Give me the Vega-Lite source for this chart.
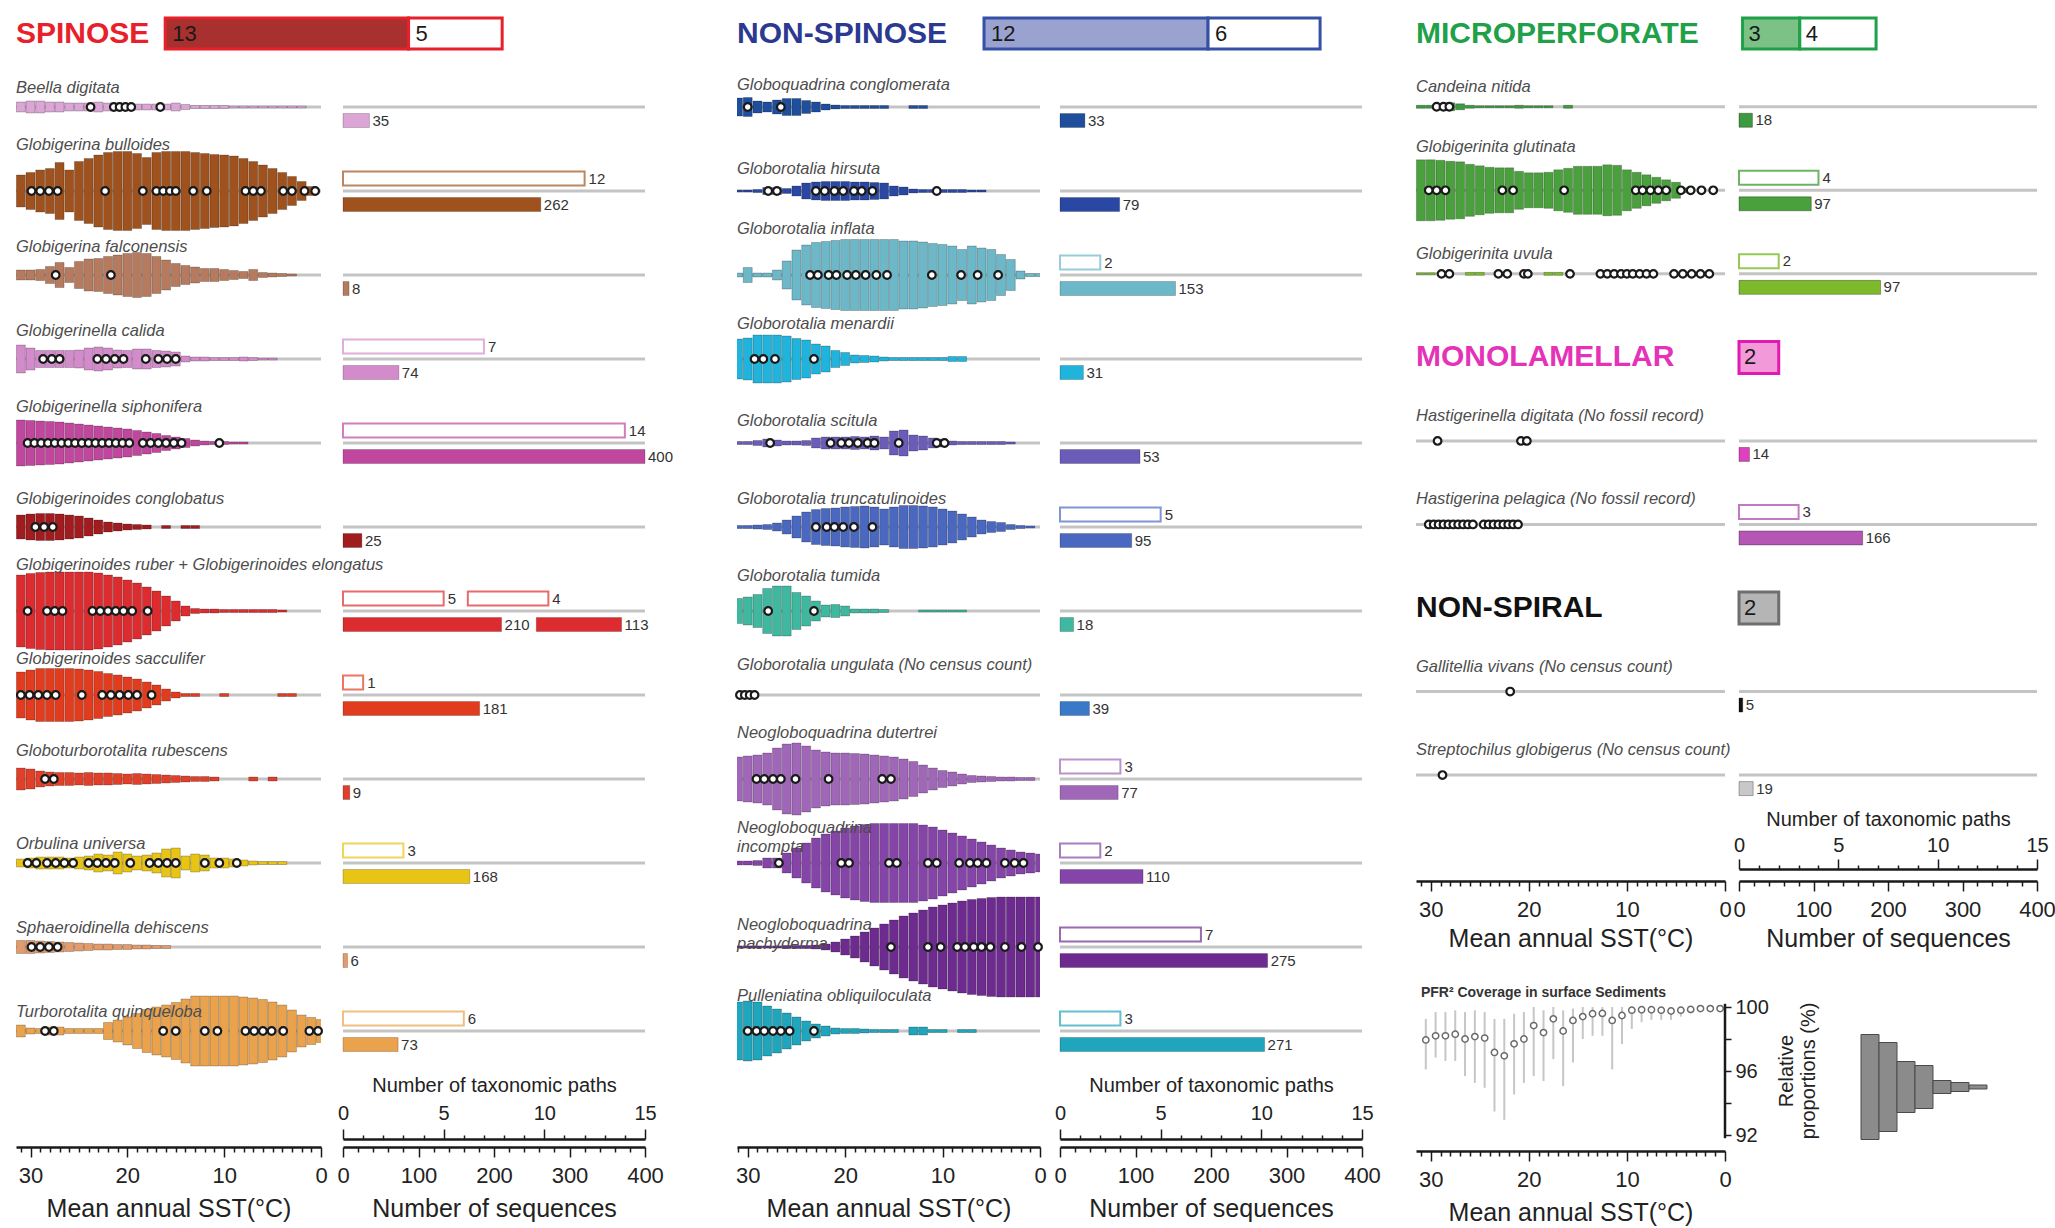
{
"$schema":"https://vega.github.io/schema/vega-lite/v6.json",
"background":"white",
"padding":{"left":12,"top":16,"right":4,"bottom":4},
"config":{"font":"Liberation Sans","view":{"stroke":null},"axis":{"grid":false,"domainColor":"#1a1a1a","domainWidth":2.5,"tickColor":"#1a1a1a","tickWidth":1.5,"labelColor":"#222","titleColor":"#222","titleFontWeight":"normal","labelFlush":false,"labelOverlap":false,"labelBound":false}},
"datasets":{
"n1":[{"c":"bdi","name":"Beella digitata"},{"c":"bul","name":"Globigerina bulloides"},{"c":"fal","name":"Globigerina falconensis"},{"c":"cal","name":"Globigerinella calida"},{"c":"sip","name":"Globigerinella siphonifera"},{"c":"cgl","name":"Globigerinoides conglobatus"},{"c":"rub","name":"Globigerinoides ruber + Globigerinoides elongatus"},{"c":"sac","name":"Globigerinoides sacculifer"},{"c":"rbs","name":"Globoturborotalita rubescens"},{"c":"uni","name":"Orbulina universa"},{"c":"deh","name":"Sphaeroidinella dehiscens"},{"c":"qui","name":"Turborotalita quinqueloba"}],
"n2":[{"c":"cgm","name":"Globoquadrina conglomerata"},{"c":"hir","name":"Globorotalia hirsuta"},{"c":"inf","name":"Globorotalia inflata"},{"c":"men","name":"Globorotalia menardii"},{"c":"sci","name":"Globorotalia scitula"},{"c":"tru","name":"Globorotalia truncatulinoides"},{"c":"tum","name":"Globorotalia tumida"},{"c":"ung","name":"Globorotalia ungulata (No census count)","nv":1},{"c":"dut","name":"Neogloboquadrina dutertrei"},{"c":"inc","name":"Neogloboquadrina\nincompta"},{"c":"pac","name":"Neogloboquadrina\npachyderma"},{"c":"obl","name":"Pulleniatina obliquiloculata"}],
"n3":[{"c":"can","name":"Candeina nitida"},{"c":"glu","name":"Globigerinita glutinata"},{"c":"uvu","name":"Globigerinita uvula"},{"c":"MONO","name":"MONOLAMELLAR","h":1},{"c":"dig","name":"Hastigerinella digitata (No fossil record)","nv":1},{"c":"pel","name":"Hastigerina pelagica (No fossil record)","nv":1},{"c":"NONS","name":"NON-SPIRAL","h":1},{"c":"gal","name":"Gallitellia vivans (No census count)","nv":1},{"c":"str","name":"Streptochilus globigerus (No census count)","nv":1}],
"v1":[
{"c":"bdi","t":31,"n":10},{"c":"bdi","t":30,"n":12},{"c":"bdi","t":29,"n":12},{"c":"bdi","t":28,"n":10},{"c":"bdi","t":27,"n":10},{"c":"bdi","t":26,"n":8},{"c":"bdi","t":25,"n":8},{"c":"bdi","t":24,"n":8},{"c":"bdi","t":23,"n":10},{"c":"bdi","t":22,"n":8},{"c":"bdi","t":21,"n":8},{"c":"bdi","t":20,"n":7},{"c":"bdi","t":19,"n":6},{"c":"bdi","t":18,"n":6},{"c":"bdi","t":17,"n":6},{"c":"bdi","t":16,"n":6},{"c":"bdi","t":15,"n":8},{"c":"bdi","t":14,"n":5},{"c":"bdi","t":13,"n":3},{"c":"bdi","t":12,"n":3},{"c":"bdi","t":11,"n":3},{"c":"bdi","t":10,"n":3},{"c":"bdi","t":9,"n":2},{"c":"bdi","t":8,"n":2},{"c":"bdi","t":7,"n":2},{"c":"bdi","t":6,"n":2},{"c":"bdi","t":5,"n":2},{"c":"bdi","t":4,"n":2},{"c":"bdi","t":3,"n":2},{"c":"bdi","t":2,"n":2},
{"c":"bul","t":31,"n":32},{"c":"bul","t":30,"n":37},{"c":"bul","t":29,"n":42},{"c":"bul","t":28,"n":45},{"c":"bul","t":27,"n":57},{"c":"bul","t":26,"n":42},{"c":"bul","t":25,"n":59},{"c":"bul","t":24,"n":65},{"c":"bul","t":23,"n":72},{"c":"bul","t":22,"n":77},{"c":"bul","t":21,"n":79},{"c":"bul","t":20,"n":79},{"c":"bul","t":19,"n":75},{"c":"bul","t":18,"n":67},{"c":"bul","t":17,"n":77},{"c":"bul","t":16,"n":79},{"c":"bul","t":15,"n":79},{"c":"bul","t":14,"n":79},{"c":"bul","t":13,"n":77},{"c":"bul","t":12,"n":75},{"c":"bul","t":11,"n":73},{"c":"bul","t":10,"n":72},{"c":"bul","t":9,"n":70},{"c":"bul","t":8,"n":65},{"c":"bul","t":7,"n":59},{"c":"bul","t":6,"n":52},{"c":"bul","t":5,"n":45},{"c":"bul","t":4,"n":37},{"c":"bul","t":3,"n":29},{"c":"bul","t":2,"n":19},{"c":"bul","t":1,"n":9},
{"c":"fal","t":31,"n":10},{"c":"fal","t":30,"n":10},{"c":"fal","t":29,"n":11},{"c":"fal","t":28,"n":17},{"c":"fal","t":27,"n":25},{"c":"fal","t":26,"n":15},{"c":"fal","t":25,"n":27},{"c":"fal","t":24,"n":32},{"c":"fal","t":23,"n":33},{"c":"fal","t":22,"n":37},{"c":"fal","t":21,"n":40},{"c":"fal","t":20,"n":43},{"c":"fal","t":19,"n":45},{"c":"fal","t":18,"n":43},{"c":"fal","t":17,"n":37},{"c":"fal","t":16,"n":30},{"c":"fal","t":15,"n":23},{"c":"fal","t":14,"n":19},{"c":"fal","t":13,"n":16},{"c":"fal","t":12,"n":13},{"c":"fal","t":11,"n":13},{"c":"fal","t":10,"n":11},{"c":"fal","t":9,"n":9},{"c":"fal","t":8,"n":7},{"c":"fal","t":7,"n":11},{"c":"fal","t":6,"n":5},{"c":"fal","t":5,"n":4},{"c":"fal","t":4,"n":3},{"c":"fal","t":3,"n":2},
{"c":"cal","t":31,"n":28},{"c":"cal","t":30,"n":22},{"c":"cal","t":29,"n":17},{"c":"cal","t":28,"n":17},{"c":"cal","t":27,"n":17},{"c":"cal","t":26,"n":17},{"c":"cal","t":25,"n":18},{"c":"cal","t":24,"n":22},{"c":"cal","t":23,"n":24},{"c":"cal","t":22,"n":22},{"c":"cal","t":21,"n":18},{"c":"cal","t":20,"n":17},{"c":"cal","t":19,"n":20},{"c":"cal","t":18,"n":20},{"c":"cal","t":17,"n":17},{"c":"cal","t":16,"n":16},{"c":"cal","t":15,"n":14},{"c":"cal","t":14,"n":6},{"c":"cal","t":13,"n":4},{"c":"cal","t":12,"n":4},{"c":"cal","t":11,"n":3},{"c":"cal","t":10,"n":3},{"c":"cal","t":9,"n":3},{"c":"cal","t":8,"n":4},{"c":"cal","t":7,"n":3},{"c":"cal","t":6,"n":2},{"c":"cal","t":5,"n":2},
{"c":"sip","t":31,"n":46},{"c":"sip","t":30,"n":45},{"c":"sip","t":29,"n":44},{"c":"sip","t":28,"n":43},{"c":"sip","t":27,"n":42},{"c":"sip","t":26,"n":40},{"c":"sip","t":25,"n":38},{"c":"sip","t":24,"n":36},{"c":"sip","t":23,"n":34},{"c":"sip","t":22,"n":32},{"c":"sip","t":21,"n":30},{"c":"sip","t":20,"n":28},{"c":"sip","t":19,"n":25},{"c":"sip","t":18,"n":22},{"c":"sip","t":17,"n":19},{"c":"sip","t":16,"n":15},{"c":"sip","t":15,"n":12},{"c":"sip","t":14,"n":9},{"c":"sip","t":13,"n":6},{"c":"sip","t":12,"n":4},{"c":"sip","t":11,"n":3},{"c":"sip","t":10,"n":3},{"c":"sip","t":9,"n":2},{"c":"sip","t":8,"n":2},
{"c":"cgl","t":31,"n":24},{"c":"cgl","t":30,"n":26},{"c":"cgl","t":29,"n":27},{"c":"cgl","t":28,"n":27},{"c":"cgl","t":27,"n":26},{"c":"cgl","t":26,"n":24},{"c":"cgl","t":25,"n":22},{"c":"cgl","t":24,"n":18},{"c":"cgl","t":23,"n":14},{"c":"cgl","t":22,"n":10},{"c":"cgl","t":21,"n":8},{"c":"cgl","t":20,"n":6},{"c":"cgl","t":19,"n":5},{"c":"cgl","t":18,"n":4},{"c":"cgl","t":16,"n":3},{"c":"cgl","t":14,"n":3},{"c":"cgl","t":13,"n":3},
{"c":"rub","t":31,"n":72},{"c":"rub","t":30,"n":75},{"c":"rub","t":29,"n":77},{"c":"rub","t":28,"n":78},{"c":"rub","t":27,"n":78},{"c":"rub","t":26,"n":78},{"c":"rub","t":25,"n":78},{"c":"rub","t":24,"n":78},{"c":"rub","t":23,"n":76},{"c":"rub","t":22,"n":72},{"c":"rub","t":21,"n":68},{"c":"rub","t":20,"n":62},{"c":"rub","t":19,"n":56},{"c":"rub","t":18,"n":48},{"c":"rub","t":17,"n":40},{"c":"rub","t":16,"n":30},{"c":"rub","t":15,"n":20},{"c":"rub","t":14,"n":10},{"c":"rub","t":13,"n":5},{"c":"rub","t":12,"n":4},{"c":"rub","t":11,"n":4},{"c":"rub","t":10,"n":3},{"c":"rub","t":9,"n":3},{"c":"rub","t":8,"n":3},{"c":"rub","t":7,"n":3},{"c":"rub","t":6,"n":3},{"c":"rub","t":5,"n":3},{"c":"rub","t":4,"n":2},
{"c":"sac","t":31,"n":46},{"c":"sac","t":30,"n":50},{"c":"sac","t":29,"n":53},{"c":"sac","t":28,"n":53},{"c":"sac","t":27,"n":53},{"c":"sac","t":26,"n":53},{"c":"sac","t":25,"n":52},{"c":"sac","t":24,"n":50},{"c":"sac","t":23,"n":47},{"c":"sac","t":22,"n":43},{"c":"sac","t":21,"n":40},{"c":"sac","t":20,"n":36},{"c":"sac","t":19,"n":32},{"c":"sac","t":18,"n":26},{"c":"sac","t":17,"n":20},{"c":"sac","t":16,"n":12},{"c":"sac","t":15,"n":6},{"c":"sac","t":14,"n":3},{"c":"sac","t":13,"n":3},{"c":"sac","t":10,"n":3},{"c":"sac","t":4,"n":3},{"c":"sac","t":3,"n":3},
{"c":"rbs","t":31,"n":22},{"c":"rbs","t":30,"n":20},{"c":"rbs","t":29,"n":16},{"c":"rbs","t":28,"n":14},{"c":"rbs","t":27,"n":13},{"c":"rbs","t":26,"n":13},{"c":"rbs","t":25,"n":12},{"c":"rbs","t":24,"n":13},{"c":"rbs","t":23,"n":12},{"c":"rbs","t":22,"n":12},{"c":"rbs","t":21,"n":11},{"c":"rbs","t":20,"n":10},{"c":"rbs","t":19,"n":11},{"c":"rbs","t":18,"n":10},{"c":"rbs","t":17,"n":9},{"c":"rbs","t":16,"n":8},{"c":"rbs","t":15,"n":7},{"c":"rbs","t":14,"n":6},{"c":"rbs","t":13,"n":5},{"c":"rbs","t":12,"n":5},{"c":"rbs","t":11,"n":4},{"c":"rbs","t":7,"n":4},{"c":"rbs","t":5,"n":4},
{"c":"uni","t":31,"n":8},{"c":"uni","t":30,"n":10},{"c":"uni","t":29,"n":12},{"c":"uni","t":28,"n":12},{"c":"uni","t":27,"n":12},{"c":"uni","t":26,"n":10},{"c":"uni","t":25,"n":12},{"c":"uni","t":24,"n":14},{"c":"uni","t":23,"n":18},{"c":"uni","t":22,"n":16},{"c":"uni","t":21,"n":22},{"c":"uni","t":20,"n":18},{"c":"uni","t":19,"n":14},{"c":"uni","t":18,"n":16},{"c":"uni","t":17,"n":20},{"c":"uni","t":16,"n":28},{"c":"uni","t":15,"n":30},{"c":"uni","t":14,"n":14},{"c":"uni","t":13,"n":18},{"c":"uni","t":12,"n":16},{"c":"uni","t":11,"n":10},{"c":"uni","t":10,"n":10},{"c":"uni","t":9,"n":8},{"c":"uni","t":8,"n":6},{"c":"uni","t":7,"n":4},{"c":"uni","t":6,"n":3},{"c":"uni","t":5,"n":3},{"c":"uni","t":4,"n":3},
{"c":"deh","t":31,"n":13},{"c":"deh","t":30,"n":13},{"c":"deh","t":29,"n":12},{"c":"deh","t":28,"n":11},{"c":"deh","t":27,"n":10},{"c":"deh","t":26,"n":9},{"c":"deh","t":25,"n":8},{"c":"deh","t":24,"n":7},{"c":"deh","t":23,"n":6},{"c":"deh","t":22,"n":6},{"c":"deh","t":21,"n":5},{"c":"deh","t":20,"n":5},{"c":"deh","t":19,"n":4},{"c":"deh","t":18,"n":4},{"c":"deh","t":17,"n":3},{"c":"deh","t":16,"n":3},
{"c":"qui","t":31,"n":12},{"c":"qui","t":30,"n":6},{"c":"qui","t":29,"n":5},{"c":"qui","t":28,"n":8},{"c":"qui","t":27,"n":8},{"c":"qui","t":26,"n":5},{"c":"qui","t":25,"n":5},{"c":"qui","t":24,"n":5},{"c":"qui","t":23,"n":5},{"c":"qui","t":22,"n":17},{"c":"qui","t":21,"n":22},{"c":"qui","t":20,"n":28},{"c":"qui","t":19,"n":35},{"c":"qui","t":18,"n":43},{"c":"qui","t":17,"n":48},{"c":"qui","t":16,"n":52},{"c":"qui","t":15,"n":57},{"c":"qui","t":14,"n":64},{"c":"qui","t":13,"n":70},{"c":"qui","t":12,"n":70},{"c":"qui","t":11,"n":70},{"c":"qui","t":10,"n":70},{"c":"qui","t":9,"n":70},{"c":"qui","t":8,"n":68},{"c":"qui","t":7,"n":66},{"c":"qui","t":6,"n":63},{"c":"qui","t":5,"n":58},{"c":"qui","t":4,"n":52},{"c":"qui","t":3,"n":42},{"c":"qui","t":2,"n":32},{"c":"qui","t":1,"n":27},{"c":"qui","t":0,"n":23}
],
"v2":[
{"c":"cgm","t":31,"n":18},{"c":"cgm","t":30,"n":19},{"c":"cgm","t":29,"n":12},{"c":"cgm","t":28,"n":10},{"c":"cgm","t":27,"n":14},{"c":"cgm","t":26,"n":17},{"c":"cgm","t":25,"n":17},{"c":"cgm","t":24,"n":13},{"c":"cgm","t":23,"n":10},{"c":"cgm","t":22,"n":6},{"c":"cgm","t":21,"n":4},{"c":"cgm","t":20,"n":3},{"c":"cgm","t":19,"n":3},{"c":"cgm","t":18,"n":3},{"c":"cgm","t":17,"n":3},{"c":"cgm","t":16,"n":3},{"c":"cgm","t":13,"n":3},{"c":"cgm","t":12,"n":3},
{"c":"hir","t":31,"n":2},{"c":"hir","t":30,"n":2},{"c":"hir","t":29,"n":3},{"c":"hir","t":28,"n":7},{"c":"hir","t":27,"n":7},{"c":"hir","t":26,"n":5},{"c":"hir","t":25,"n":10},{"c":"hir","t":24,"n":16},{"c":"hir","t":23,"n":18},{"c":"hir","t":22,"n":19},{"c":"hir","t":21,"n":19},{"c":"hir","t":20,"n":19},{"c":"hir","t":19,"n":18},{"c":"hir","t":18,"n":18},{"c":"hir","t":17,"n":17},{"c":"hir","t":16,"n":16},{"c":"hir","t":15,"n":10},{"c":"hir","t":14,"n":8},{"c":"hir","t":13,"n":4},{"c":"hir","t":12,"n":3},{"c":"hir","t":11,"n":3},{"c":"hir","t":10,"n":3},{"c":"hir","t":9,"n":3},{"c":"hir","t":8,"n":3},{"c":"hir","t":7,"n":2},{"c":"hir","t":6,"n":2},
{"c":"inf","t":31,"n":4},{"c":"inf","t":30,"n":15},{"c":"inf","t":29,"n":4},{"c":"inf","t":28,"n":4},{"c":"inf","t":27,"n":10},{"c":"inf","t":26,"n":28},{"c":"inf","t":25,"n":50},{"c":"inf","t":24,"n":60},{"c":"inf","t":23,"n":65},{"c":"inf","t":22,"n":67},{"c":"inf","t":21,"n":69},{"c":"inf","t":20,"n":71},{"c":"inf","t":19,"n":71},{"c":"inf","t":18,"n":71},{"c":"inf","t":17,"n":71},{"c":"inf","t":16,"n":71},{"c":"inf","t":15,"n":71},{"c":"inf","t":14,"n":68},{"c":"inf","t":13,"n":68},{"c":"inf","t":12,"n":66},{"c":"inf","t":11,"n":63},{"c":"inf","t":10,"n":61},{"c":"inf","t":9,"n":58},{"c":"inf","t":8,"n":51},{"c":"inf","t":7,"n":58},{"c":"inf","t":6,"n":54},{"c":"inf","t":5,"n":51},{"c":"inf","t":4,"n":41},{"c":"inf","t":3,"n":31},{"c":"inf","t":2,"n":8},{"c":"inf","t":1,"n":3},{"c":"inf","t":0,"n":3},
{"c":"men","t":31,"n":40},{"c":"men","t":30,"n":42},{"c":"men","t":29,"n":48},{"c":"men","t":28,"n":48},{"c":"men","t":27,"n":48},{"c":"men","t":26,"n":46},{"c":"men","t":25,"n":41},{"c":"men","t":24,"n":38},{"c":"men","t":23,"n":30},{"c":"men","t":22,"n":26},{"c":"men","t":21,"n":17},{"c":"men","t":20,"n":13},{"c":"men","t":19,"n":8},{"c":"men","t":18,"n":7},{"c":"men","t":17,"n":6},{"c":"men","t":16,"n":4},{"c":"men","t":15,"n":3},{"c":"men","t":14,"n":3},{"c":"men","t":13,"n":3},{"c":"men","t":12,"n":3},{"c":"men","t":11,"n":3},{"c":"men","t":10,"n":3},{"c":"men","t":9,"n":5},{"c":"men","t":8,"n":5},
{"c":"sci","t":31,"n":3},{"c":"sci","t":30,"n":3},{"c":"sci","t":29,"n":5},{"c":"sci","t":28,"n":8},{"c":"sci","t":27,"n":6},{"c":"sci","t":26,"n":4},{"c":"sci","t":25,"n":4},{"c":"sci","t":24,"n":5},{"c":"sci","t":23,"n":10},{"c":"sci","t":22,"n":12},{"c":"sci","t":21,"n":12},{"c":"sci","t":20,"n":12},{"c":"sci","t":19,"n":13},{"c":"sci","t":18,"n":12},{"c":"sci","t":17,"n":14},{"c":"sci","t":16,"n":12},{"c":"sci","t":15,"n":24},{"c":"sci","t":14,"n":26},{"c":"sci","t":13,"n":16},{"c":"sci","t":12,"n":14},{"c":"sci","t":11,"n":10},{"c":"sci","t":10,"n":8},{"c":"sci","t":9,"n":4},{"c":"sci","t":8,"n":3},{"c":"sci","t":7,"n":3},{"c":"sci","t":6,"n":3},{"c":"sci","t":5,"n":3},{"c":"sci","t":4,"n":3},{"c":"sci","t":3,"n":2},
{"c":"tru","t":31,"n":3},{"c":"tru","t":30,"n":3},{"c":"tru","t":29,"n":4},{"c":"tru","t":28,"n":5},{"c":"tru","t":27,"n":8},{"c":"tru","t":26,"n":14},{"c":"tru","t":25,"n":22},{"c":"tru","t":24,"n":30},{"c":"tru","t":23,"n":35},{"c":"tru","t":22,"n":37},{"c":"tru","t":21,"n":38},{"c":"tru","t":20,"n":40},{"c":"tru","t":19,"n":41},{"c":"tru","t":18,"n":42},{"c":"tru","t":17,"n":40},{"c":"tru","t":16,"n":36},{"c":"tru","t":15,"n":40},{"c":"tru","t":14,"n":43},{"c":"tru","t":13,"n":43},{"c":"tru","t":12,"n":42},{"c":"tru","t":11,"n":40},{"c":"tru","t":10,"n":36},{"c":"tru","t":9,"n":32},{"c":"tru","t":8,"n":26},{"c":"tru","t":7,"n":20},{"c":"tru","t":6,"n":14},{"c":"tru","t":5,"n":11},{"c":"tru","t":4,"n":9},{"c":"tru","t":3,"n":5},{"c":"tru","t":2,"n":3},{"c":"tru","t":1,"n":2},
{"c":"tum","t":31,"n":25},{"c":"tum","t":30,"n":28},{"c":"tum","t":29,"n":33},{"c":"tum","t":28,"n":45},{"c":"tum","t":27,"n":50},{"c":"tum","t":26,"n":50},{"c":"tum","t":25,"n":37},{"c":"tum","t":24,"n":30},{"c":"tum","t":23,"n":20},{"c":"tum","t":22,"n":12},{"c":"tum","t":21,"n":13},{"c":"tum","t":20,"n":10},{"c":"tum","t":19,"n":4},{"c":"tum","t":18,"n":4},{"c":"tum","t":17,"n":4},{"c":"tum","t":16,"n":3},{"c":"tum","t":12,"n":2},{"c":"tum","t":11,"n":2},{"c":"tum","t":10,"n":2},{"c":"tum","t":9,"n":2},{"c":"tum","t":8,"n":2},
{"c":"dut","t":31,"n":44},{"c":"dut","t":30,"n":46},{"c":"dut","t":29,"n":48},{"c":"dut","t":28,"n":52},{"c":"dut","t":27,"n":62},{"c":"dut","t":26,"n":70},{"c":"dut","t":25,"n":72},{"c":"dut","t":24,"n":66},{"c":"dut","t":23,"n":58},{"c":"dut","t":22,"n":54},{"c":"dut","t":21,"n":52},{"c":"dut","t":20,"n":52},{"c":"dut","t":19,"n":51},{"c":"dut","t":18,"n":50},{"c":"dut","t":17,"n":48},{"c":"dut","t":16,"n":46},{"c":"dut","t":15,"n":44},{"c":"dut","t":14,"n":40},{"c":"dut","t":13,"n":35},{"c":"dut","t":12,"n":28},{"c":"dut","t":11,"n":22},{"c":"dut","t":10,"n":17},{"c":"dut","t":9,"n":14},{"c":"dut","t":8,"n":10},{"c":"dut","t":7,"n":7},{"c":"dut","t":6,"n":6},{"c":"dut","t":5,"n":5},{"c":"dut","t":4,"n":4},{"c":"dut","t":3,"n":4},{"c":"dut","t":2,"n":3},{"c":"dut","t":1,"n":3},
{"c":"inc","t":31,"n":4},{"c":"inc","t":30,"n":4},{"c":"inc","t":29,"n":5},{"c":"inc","t":28,"n":10},{"c":"inc","t":27,"n":10},{"c":"inc","t":26,"n":20},{"c":"inc","t":25,"n":30},{"c":"inc","t":24,"n":40},{"c":"inc","t":23,"n":50},{"c":"inc","t":22,"n":58},{"c":"inc","t":21,"n":64},{"c":"inc","t":20,"n":70},{"c":"inc","t":19,"n":74},{"c":"inc","t":18,"n":77},{"c":"inc","t":17,"n":79},{"c":"inc","t":16,"n":79},{"c":"inc","t":15,"n":79},{"c":"inc","t":14,"n":79},{"c":"inc","t":13,"n":79},{"c":"inc","t":12,"n":76},{"c":"inc","t":11,"n":72},{"c":"inc","t":10,"n":66},{"c":"inc","t":9,"n":60},{"c":"inc","t":8,"n":54},{"c":"inc","t":7,"n":48},{"c":"inc","t":6,"n":42},{"c":"inc","t":5,"n":36},{"c":"inc","t":4,"n":30},{"c":"inc","t":3,"n":26},{"c":"inc","t":2,"n":22},{"c":"inc","t":1,"n":20},{"c":"inc","t":0,"n":18},
{"c":"pac","t":31,"n":2},{"c":"pac","t":30,"n":2},{"c":"pac","t":29,"n":2},{"c":"pac","t":28,"n":2},{"c":"pac","t":27,"n":2},{"c":"pac","t":26,"n":3},{"c":"pac","t":25,"n":3},{"c":"pac","t":24,"n":3},{"c":"pac","t":23,"n":4},{"c":"pac","t":22,"n":6},{"c":"pac","t":21,"n":10},{"c":"pac","t":20,"n":16},{"c":"pac","t":19,"n":22},{"c":"pac","t":18,"n":30},{"c":"pac","t":17,"n":38},{"c":"pac","t":16,"n":46},{"c":"pac","t":15,"n":54},{"c":"pac","t":14,"n":62},{"c":"pac","t":13,"n":68},{"c":"pac","t":12,"n":74},{"c":"pac","t":11,"n":80},{"c":"pac","t":10,"n":84},{"c":"pac","t":9,"n":88},{"c":"pac","t":8,"n":92},{"c":"pac","t":7,"n":95},{"c":"pac","t":6,"n":97},{"c":"pac","t":5,"n":99},{"c":"pac","t":4,"n":100},{"c":"pac","t":3,"n":100},{"c":"pac","t":2,"n":100},{"c":"pac","t":1,"n":100},{"c":"pac","t":0,"n":100},
{"c":"obl","t":31,"n":58},{"c":"obl","t":30,"n":60},{"c":"obl","t":29,"n":58},{"c":"obl","t":28,"n":50},{"c":"obl","t":27,"n":44},{"c":"obl","t":26,"n":36},{"c":"obl","t":25,"n":28},{"c":"obl","t":24,"n":20},{"c":"obl","t":23,"n":14},{"c":"obl","t":22,"n":10},{"c":"obl","t":21,"n":6},{"c":"obl","t":20,"n":5},{"c":"obl","t":19,"n":5},{"c":"obl","t":18,"n":4},{"c":"obl","t":17,"n":3},{"c":"obl","t":16,"n":3},{"c":"obl","t":15,"n":3},{"c":"obl","t":13,"n":8},{"c":"obl","t":12,"n":8},{"c":"obl","t":11,"n":3},{"c":"obl","t":10,"n":3},{"c":"obl","t":8,"n":3},{"c":"obl","t":7,"n":3}
],
"v3":[
{"c":"can","t":31,"n":3},{"c":"can","t":30,"n":3},{"c":"can","t":29,"n":6},{"c":"can","t":28,"n":8},{"c":"can","t":27,"n":6},{"c":"can","t":26,"n":3},{"c":"can","t":25,"n":2},{"c":"can","t":24,"n":2},{"c":"can","t":23,"n":2},{"c":"can","t":22,"n":2},{"c":"can","t":21,"n":3},{"c":"can","t":20,"n":2},{"c":"can","t":19,"n":2},{"c":"can","t":18,"n":2},{"c":"can","t":16,"n":3},
{"c":"glu","t":31,"n":61},{"c":"glu","t":30,"n":61},{"c":"glu","t":29,"n":60},{"c":"glu","t":28,"n":58},{"c":"glu","t":27,"n":57},{"c":"glu","t":26,"n":52},{"c":"glu","t":25,"n":49},{"c":"glu","t":24,"n":46},{"c":"glu","t":23,"n":45},{"c":"glu","t":22,"n":45},{"c":"glu","t":21,"n":38},{"c":"glu","t":20,"n":35},{"c":"glu","t":19,"n":35},{"c":"glu","t":18,"n":36},{"c":"glu","t":17,"n":41},{"c":"glu","t":16,"n":44},{"c":"glu","t":15,"n":48},{"c":"glu","t":14,"n":48},{"c":"glu","t":13,"n":48},{"c":"glu","t":12,"n":51},{"c":"glu","t":11,"n":50},{"c":"glu","t":10,"n":41},{"c":"glu","t":9,"n":36},{"c":"glu","t":8,"n":31},{"c":"glu","t":7,"n":26},{"c":"glu","t":6,"n":21},{"c":"glu","t":5,"n":16},{"c":"glu","t":4,"n":5},
{"c":"uvu","t":31,"n":2},{"c":"uvu","t":30,"n":2},{"c":"uvu","t":26,"n":3},{"c":"uvu","t":25,"n":3},{"c":"uvu","t":18,"n":3},{"c":"uvu","t":17,"n":3},{"c":"uvu","t":12,"n":2}
],
"o1":[
{"c":"bdi","t":23.8},{"c":"bdi","t":21.4},{"c":"bdi","t":20.8},{"c":"bdi","t":20.2},{"c":"bdi","t":19.6},{"c":"bdi","t":16.6},
{"c":"bul","t":29.9},{"c":"bul","t":29.0},{"c":"bul","t":28.1},{"c":"bul","t":27.2},{"c":"bul","t":22.3},{"c":"bul","t":18.4},{"c":"bul","t":17.0},{"c":"bul","t":16.3},{"c":"bul","t":15.6},{"c":"bul","t":15.0},{"c":"bul","t":13.2},{"c":"bul","t":11.8},{"c":"bul","t":7.8},{"c":"bul","t":7.0},{"c":"bul","t":6.2},{"c":"bul","t":3.9},{"c":"bul","t":3.0},{"c":"bul","t":1.7},{"c":"bul","t":0.6},
{"c":"fal","t":27.4},{"c":"fal","t":21.7},
{"c":"cal","t":28.7},{"c":"cal","t":27.8},{"c":"cal","t":27.0},{"c":"cal","t":23.1},{"c":"cal","t":22.2},{"c":"cal","t":21.3},{"c":"cal","t":20.4},{"c":"cal","t":18.1},{"c":"cal","t":16.8},{"c":"cal","t":15.9},{"c":"cal","t":15.0},
{"c":"sip","t":30.3},{"c":"sip","t":29.6},{"c":"sip","t":28.9},{"c":"sip","t":28.2},{"c":"sip","t":27.5},{"c":"sip","t":26.8},{"c":"sip","t":26.1},{"c":"sip","t":25.4},{"c":"sip","t":24.7},{"c":"sip","t":24.0},{"c":"sip","t":23.3},{"c":"sip","t":22.6},{"c":"sip","t":21.9},{"c":"sip","t":21.2},{"c":"sip","t":20.5},{"c":"sip","t":19.8},{"c":"sip","t":18.4},{"c":"sip","t":17.6},{"c":"sip","t":16.8},{"c":"sip","t":16.0},{"c":"sip","t":15.2},{"c":"sip","t":14.4},{"c":"sip","t":10.5},
{"c":"cgl","t":29.5},{"c":"cgl","t":28.6},{"c":"cgl","t":27.7},
{"c":"rub","t":30.3},{"c":"rub","t":28.3},{"c":"rub","t":27.5},{"c":"rub","t":26.7},{"c":"rub","t":23.6},{"c":"rub","t":22.8},{"c":"rub","t":22.0},{"c":"rub","t":21.2},{"c":"rub","t":20.4},{"c":"rub","t":19.5},{"c":"rub","t":17.9},
{"c":"sac","t":31.0},{"c":"sac","t":30.1},{"c":"sac","t":29.2},{"c":"sac","t":28.3},{"c":"sac","t":27.4},{"c":"sac","t":24.7},{"c":"sac","t":22.6},{"c":"sac","t":21.7},{"c":"sac","t":20.8},{"c":"sac","t":19.9},{"c":"sac","t":19.0},{"c":"sac","t":17.5},
{"c":"rbs","t":28.5},{"c":"rbs","t":27.6},
{"c":"uni","t":30.3},{"c":"uni","t":29.4},{"c":"uni","t":28.3},{"c":"uni","t":27.4},{"c":"uni","t":26.5},{"c":"uni","t":25.6},{"c":"uni","t":24.0},{"c":"uni","t":23.1},{"c":"uni","t":22.2},{"c":"uni","t":21.3},{"c":"uni","t":19.7},{"c":"uni","t":17.7},{"c":"uni","t":16.8},{"c":"uni","t":15.9},{"c":"uni","t":15.0},{"c":"uni","t":12.0},{"c":"uni","t":10.5},{"c":"uni","t":8.7},
{"c":"deh","t":29.9},{"c":"deh","t":29.0},{"c":"deh","t":28.1},{"c":"deh","t":27.2},
{"c":"qui","t":28.5},{"c":"qui","t":27.6},{"c":"qui","t":16.3},{"c":"qui","t":15.0},{"c":"qui","t":12.0},{"c":"qui","t":10.7},{"c":"qui","t":7.8},{"c":"qui","t":6.9},{"c":"qui","t":6.0},{"c":"qui","t":5.1},{"c":"qui","t":3.9},{"c":"qui","t":1.2},{"c":"qui","t":0.3}
],
"o2":[
{"c":"cgm","t":30.0},{"c":"cgm","t":26.6},
{"c":"hir","t":27.9},{"c":"hir","t":27.0},{"c":"hir","t":23.0},{"c":"hir","t":22.1},{"c":"hir","t":21.1},{"c":"hir","t":20.2},{"c":"hir","t":19.1},{"c":"hir","t":18.3},{"c":"hir","t":17.2},{"c":"hir","t":10.6},
{"c":"inf","t":23.6},{"c":"inf","t":22.8},{"c":"inf","t":21.7},{"c":"inf","t":20.9},{"c":"inf","t":19.8},{"c":"inf","t":18.9},{"c":"inf","t":17.9},{"c":"inf","t":16.8},{"c":"inf","t":15.7},{"c":"inf","t":11.1},{"c":"inf","t":8.1},{"c":"inf","t":6.4},{"c":"inf","t":4.3},
{"c":"men","t":29.3},{"c":"men","t":28.4},{"c":"men","t":27.2},{"c":"men","t":23.2},
{"c":"sci","t":27.7},{"c":"sci","t":21.5},{"c":"sci","t":20.4},{"c":"sci","t":19.6},{"c":"sci","t":18.7},{"c":"sci","t":17.7},{"c":"sci","t":17.0},{"c":"sci","t":14.5},{"c":"sci","t":10.6},{"c":"sci","t":9.8},
{"c":"tru","t":23.0},{"c":"tru","t":21.9},{"c":"tru","t":21.1},{"c":"tru","t":20.2},{"c":"tru","t":19.1},{"c":"tru","t":17.2},
{"c":"tum","t":27.9},{"c":"tum","t":23.2},
{"c":"ung","t":30.8},{"c":"ung","t":30.3},{"c":"ung","t":29.8},{"c":"ung","t":29.3},
{"c":"dut","t":29.1},{"c":"dut","t":28.3},{"c":"dut","t":27.4},{"c":"dut","t":26.6},{"c":"dut","t":25.1},{"c":"dut","t":21.7},{"c":"dut","t":16.2},{"c":"dut","t":15.3},
{"c":"inc","t":26.8},{"c":"inc","t":20.4},{"c":"inc","t":19.6},{"c":"inc","t":15.5},{"c":"inc","t":14.7},{"c":"inc","t":11.5},{"c":"inc","t":10.6},{"c":"inc","t":8.3},{"c":"inc","t":7.2},{"c":"inc","t":6.4},{"c":"inc","t":5.5},{"c":"inc","t":3.6},{"c":"inc","t":2.6},{"c":"inc","t":1.7},
{"c":"pac","t":15.3},{"c":"pac","t":11.5},{"c":"pac","t":10.2},{"c":"pac","t":8.5},{"c":"pac","t":7.7},{"c":"pac","t":6.8},{"c":"pac","t":6.0},{"c":"pac","t":5.1},{"c":"pac","t":3.6},{"c":"pac","t":1.9},{"c":"pac","t":0.2},
{"c":"obl","t":30.0},{"c":"obl","t":29.1},{"c":"obl","t":28.3},{"c":"obl","t":27.4},{"c":"obl","t":26.6},{"c":"obl","t":25.7},{"c":"obl","t":23.2}
],
"o3":[
{"c":"can","t":29.4},{"c":"can","t":28.7},{"c":"can","t":28.1},
{"c":"glu","t":30.2},{"c":"glu","t":29.4},{"c":"glu","t":28.5},{"c":"glu","t":22.7},{"c":"glu","t":21.6},{"c":"glu","t":16.4},{"c":"glu","t":9.1},{"c":"glu","t":8.4},{"c":"glu","t":7.6},{"c":"glu","t":6.8},{"c":"glu","t":6.0},{"c":"glu","t":4.5},{"c":"glu","t":3.5},{"c":"glu","t":2.4},{"c":"glu","t":1.2},
{"c":"uvu","t":28.9},{"c":"uvu","t":28.1},{"c":"uvu","t":23.1},{"c":"uvu","t":22.2},{"c":"uvu","t":20.5},{"c":"uvu","t":20.1},{"c":"uvu","t":15.8},{"c":"uvu","t":12.7},{"c":"uvu","t":12.0},{"c":"uvu","t":11.3},{"c":"uvu","t":10.6},{"c":"uvu","t":10.0},{"c":"uvu","t":9.4},{"c":"uvu","t":8.7},{"c":"uvu","t":8.0},{"c":"uvu","t":7.3},{"c":"uvu","t":5.2},{"c":"uvu","t":4.3},{"c":"uvu","t":3.4},{"c":"uvu","t":2.5},{"c":"uvu","t":1.6},
{"c":"dig","t":29.3},{"c":"dig","t":20.8},{"c":"dig","t":20.2},
{"c":"pel","t":30.2},{"c":"pel","t":29.7},{"c":"pel","t":29.2},{"c":"pel","t":28.7},{"c":"pel","t":28.2},{"c":"pel","t":27.7},{"c":"pel","t":27.2},{"c":"pel","t":26.7},{"c":"pel","t":26.2},{"c":"pel","t":25.7},{"c":"pel","t":24.6},{"c":"pel","t":24.1},{"c":"pel","t":23.6},{"c":"pel","t":23.1},{"c":"pel","t":22.6},{"c":"pel","t":22.1},{"c":"pel","t":21.6},{"c":"pel","t":21.1},
{"c":"gal","t":21.9},
{"c":"str","t":28.8}
],
"b1":[
{"c":"bdi","s0":0,"s1":35,"sl":35},
{"c":"bul","p0":0,"p1":12,"pl":12,"s0":0,"s1":262,"sl":262},
{"c":"fal","s0":0,"s1":8,"sl":8},
{"c":"cal","p0":0,"p1":7,"pl":7,"s0":0,"s1":74,"sl":74},
{"c":"sip","p0":0,"p1":14,"pl":14,"s0":0,"s1":400,"sl":400},
{"c":"cgl","s0":0,"s1":25,"sl":25},
{"c":"rub","p0":0,"p1":5,"pl":5,"s0":0,"s1":210,"sl":210},
{"c":"rub","p0":6.2,"p1":10.2,"pl":4,"s0":256,"s1":369,"sl":113},
{"c":"sac","p0":0,"p1":1,"pl":1,"s0":0,"s1":181,"sl":181},
{"c":"rbs","s0":0,"s1":9,"sl":9},
{"c":"uni","p0":0,"p1":3,"pl":3,"s0":0,"s1":168,"sl":168},
{"c":"deh","s0":0,"s1":6,"sl":6},
{"c":"qui","p0":0,"p1":6,"pl":6,"s0":0,"s1":73,"sl":73}
],
"b2":[
{"c":"cgm","s0":0,"s1":33,"sl":33},
{"c":"hir","s0":0,"s1":79,"sl":79},
{"c":"inf","p0":0,"p1":2,"pl":2,"s0":0,"s1":153,"sl":153},
{"c":"men","s0":0,"s1":31,"sl":31},
{"c":"sci","s0":0,"s1":106,"sl":53},
{"c":"tru","p0":0,"p1":5,"pl":5,"s0":0,"s1":95,"sl":95},
{"c":"tum","s0":0,"s1":18,"sl":18},
{"c":"ung","s0":0,"s1":39,"sl":39},
{"c":"dut","p0":0,"p1":3,"pl":3,"s0":0,"s1":77,"sl":77},
{"c":"inc","p0":0,"p1":2,"pl":2,"s0":0,"s1":110,"sl":110},
{"c":"pac","p0":0,"p1":7,"pl":7,"s0":0,"s1":275,"sl":275},
{"c":"obl","p0":0,"p1":3,"pl":3,"s0":0,"s1":271,"sl":271}
],
"b3":[
{"c":"can","s0":0,"s1":18,"sl":18},
{"c":"glu","p0":0,"p1":4,"pl":4,"s0":0,"s1":97,"sl":97},
{"c":"uvu","p0":0,"p1":2,"pl":2,"s0":0,"s1":190,"sl":97},
{"c":"dig","s0":0,"s1":14,"sl":14},
{"c":"pel","p0":0,"p1":3,"pl":3,"s0":0,"s1":166,"sl":166},
{"c":"gal","s0":0,"s1":5,"sl":5},
{"c":"str","s0":0,"s1":19,"sl":19}
],
"hb":[{"c":"MONO","v":2},{"c":"NONS","v":2}],
"h1":[{"v":13,"o":0},{"v":5,"o":1}],
"h2":[{"v":12,"o":0},{"v":6,"o":1}],
"h3":[{"v":3,"o":0},{"v":4,"o":1}],
"pfr":[
{"t":30.5,"v":97.94,"lo":96.1,"hi":99.26},{"t":29.5,"v":98.2,"lo":96.84,"hi":99.68},{"t":28.5,"v":98.2,"lo":96.63,"hi":99.68},{"t":27.5,"v":98.3,"lo":96.63,"hi":99.79},{"t":26.5,"v":98.0,"lo":95.68,"hi":99.68},{"t":25.5,"v":98.15,"lo":95.26,"hi":99.79},{"t":24.5,"v":98.06,"lo":94.95,"hi":99.68},{"t":23.5,"v":97.16,"lo":93.47,"hi":99.26},{"t":22.5,"v":96.95,"lo":92.95,"hi":99.26},{"t":21.5,"v":97.7,"lo":94.53,"hi":99.58},{"t":20.5,"v":98.0,"lo":95.26,"hi":99.68},{"t":19.5,"v":98.84,"lo":95.68,"hi":100},{"t":18.5,"v":98.4,"lo":95.37,"hi":99.79},{"t":17.5,"v":99.26,"lo":96.74,"hi":100},{"t":16.5,"v":98.5,"lo":95.05,"hi":99.79},{"t":15.5,"v":99.16,"lo":96.53,"hi":99.9},{"t":14.5,"v":99.4,"lo":98.0,"hi":100},{"t":13.5,"v":99.58,"lo":98.2,"hi":100},{"t":12.5,"v":99.6,"lo":98.2,"hi":100},{"t":11.5,"v":99.16,"lo":96.1,"hi":100},{"t":10.5,"v":99.47,"lo":97.68,"hi":100},{"t":9.5,"v":99.8,"lo":98.63,"hi":99.95},{"t":8.5,"v":99.83,"lo":99.05,"hi":99.95},{"t":7.5,"v":99.83,"lo":99.2,"hi":99.95},{"t":6.5,"v":99.8,"lo":99.2,"hi":99.95},{"t":5.5,"v":99.75,"lo":99.2,"hi":99.95},{"t":4.5,"v":99.8,"lo":99.4,"hi":99.95},{"t":3.5,"v":99.85,"lo":99.6,"hi":99.95},{"t":2.5,"v":99.9,"lo":99.7,"hi":99.97},{"t":1.5,"v":99.9,"lo":99.8,"hi":99.97},{"t":0.5,"v":99.9,"lo":99.8,"hi":99.97}
],
"pt":[{"g":"PFR² Coverage in surface Sediments","yt":"Relative\nproportions (%)"}],
"hist":[{"k":1,"n":105},{"k":2,"n":89},{"k":3,"n":51},{"k":4,"n":43},{"k":5,"n":13},{"k":6,"n":9},{"k":7,"n":4}]
},
"bounds":"flush",
"columns":6,
"spacing":{"row":16,"column":14},
"concat":[
 {"width":313,"height":31,"layer":[
  {"data":{"name":"h1"},"transform":[{"stack":"v","groupby":[],"sort":[{"field":"o"}],"as":["a","b"]},{"filter":"datum.o == 0"}],"mark":{"type":"rect","fill":"#a8312f","stroke":"#e8202a","strokeWidth":3},"encoding":{"x":{"field":"a","type":"quantitative","scale":{"domain":[-7.97,8.75],"nice":false,"zero":false},"axis":null},"x2":{"field":"b"},"y":{"datum":0,"type":"quantitative","scale":{"domain":[0,1]},"axis":null},"y2":{"datum":1}}},
  {"data":{"name":"h1"},"transform":[{"stack":"v","groupby":[],"sort":[{"field":"o"}],"as":["a","b"]},{"filter":"datum.o == 1"}],"mark":{"type":"rect","fill":"#ffffff","stroke":"#e8202a","strokeWidth":3},"encoding":{"x":{"field":"a","type":"quantitative","axis":null},"x2":{"field":"b"},"y":{"datum":0,"type":"quantitative","axis":null},"y2":{"datum":1}}},
  {"data":{"name":"h1"},"transform":[{"stack":"v","groupby":[],"sort":[{"field":"o"}],"as":["a","b"]}],"mark":{"type":"text","align":"left","baseline":"middle","dx":7,"fontSize":22,"color":"#1a1a1a"},"encoding":{"x":{"field":"a","type":"quantitative","axis":null},"y":{"datum":0.5,"type":"quantitative","axis":null},"text":{"field":"v"}}},
  {"data":{"values":[{"g":"SPINOSE"}]},"mark":{"type":"text","align":"left","baseline":"middle","fontSize":30,"fontWeight":"bold","color":"#e8202a"},"encoding":{"x":{"datum":-7.97,"type":"quantitative","axis":null},"y":{"datum":0.5,"type":"quantitative","axis":null},"text":{"field":"g"}}}
 ]},
 {"width":380,"height":31,"data":{"values":[{"z":0}]},"mark":{"type":"point","opacity":0},"encoding":{}},
 {"width":309,"height":31,"layer":[
  {"data":{"name":"h2"},"transform":[{"stack":"v","groupby":[],"sort":[{"field":"o"}],"as":["a","b"]},{"filter":"datum.o == 0"}],"mark":{"type":"rect","fill":"#9aa3cf","stroke":"#3550a5","strokeWidth":3},"encoding":{"x":{"field":"a","type":"quantitative","scale":{"domain":[-13.23,3.32],"nice":false,"zero":false},"axis":null},"x2":{"field":"b"},"y":{"datum":0,"type":"quantitative","scale":{"domain":[0,1]},"axis":null},"y2":{"datum":1}}},
  {"data":{"name":"h2"},"transform":[{"stack":"v","groupby":[],"sort":[{"field":"o"}],"as":["a","b"]},{"filter":"datum.o == 1"}],"mark":{"type":"rect","fill":"#ffffff","stroke":"#3550a5","strokeWidth":3},"encoding":{"x":{"field":"a","type":"quantitative","axis":null},"x2":{"field":"b"},"y":{"datum":0,"type":"quantitative","axis":null},"y2":{"datum":1}}},
  {"data":{"name":"h2"},"transform":[{"stack":"v","groupby":[],"sort":[{"field":"o"}],"as":["a","b"]}],"mark":{"type":"text","align":"left","baseline":"middle","dx":7,"fontSize":22,"color":"#1a1a1a"},"encoding":{"x":{"field":"a","type":"quantitative","axis":null},"y":{"datum":0.5,"type":"quantitative","axis":null},"text":{"field":"v"}}},
  {"data":{"values":[{"g":"NON-SPINOSE"}]},"mark":{"type":"text","align":"left","baseline":"middle","fontSize":30,"fontWeight":"bold","color":"#2b3990"},"encoding":{"x":{"datum":-13.23,"type":"quantitative","axis":null},"y":{"datum":0.5,"type":"quantitative","axis":null},"text":{"field":"g"}}}
 ]},
 {"width":342,"height":31,"data":{"values":[{"z":0}]},"mark":{"type":"point","opacity":0},"encoding":{}},
 {"width":309,"height":31,"layer":[
  {"data":{"name":"h3"},"transform":[{"stack":"v","groupby":[],"sort":[{"field":"o"}],"as":["a","b"]},{"filter":"datum.o == 0"}],"mark":{"type":"rect","fill":"#7cc186","stroke":"#1fa049","strokeWidth":3},"encoding":{"x":{"field":"a","type":"quantitative","scale":{"domain":[-17.12,-0.92],"nice":false,"zero":false},"axis":null},"x2":{"field":"b"},"y":{"datum":0,"type":"quantitative","scale":{"domain":[0,1]},"axis":null},"y2":{"datum":1}}},
  {"data":{"name":"h3"},"transform":[{"stack":"v","groupby":[],"sort":[{"field":"o"}],"as":["a","b"]},{"filter":"datum.o == 1"}],"mark":{"type":"rect","fill":"#ffffff","stroke":"#1fa049","strokeWidth":3},"encoding":{"x":{"field":"a","type":"quantitative","axis":null},"x2":{"field":"b"},"y":{"datum":0,"type":"quantitative","axis":null},"y2":{"datum":1}}},
  {"data":{"name":"h3"},"transform":[{"stack":"v","groupby":[],"sort":[{"field":"o"}],"as":["a","b"]}],"mark":{"type":"text","align":"left","baseline":"middle","dx":6,"fontSize":22,"color":"#1a1a1a"},"encoding":{"x":{"field":"a","type":"quantitative","axis":null},"y":{"datum":0.5,"type":"quantitative","axis":null},"text":{"field":"v"}}},
  {"data":{"values":[{"g":"MICROPERFORATE"}]},"mark":{"type":"text","align":"left","baseline":"middle","fontSize":30,"fontWeight":"bold","color":"#1fa049"},"encoding":{"x":{"datum":-17.12,"type":"quantitative","axis":null},"y":{"datum":0.5,"type":"quantitative","axis":null},"text":{"field":"g"}}}
 ]},
 {"width":298,"height":31,"data":{"values":[{"z":0}]},"mark":{"type":"point","opacity":0},"encoding":{}},

 {"width":305,"height":1008,"resolve":{"scale":{"x":"independent"},"axis":{"x":"independent"}},"layer":[
   {"data":{"name":"n1"},"mark":{"type":"rule","color":"#c4c4c4","strokeWidth":3},"encoding":{"y":{"field":"c","type":"nominal","scale":{"domain":["bdi","bul","fal","cal","sip","cgl","rub","sac","rbs","uni","deh","qui"],"paddingInner":0,"paddingOuter":0},"axis":null}}},
   {"data":{"name":"v1"},"mark":{"type":"tick","orient":"vertical","thickness":9,"clip":true,"opacity":1,"stroke":"#000000","strokeOpacity":0.22,"strokeWidth":1},"encoding":{
     "x":{"field":"t","type":"quantitative","scale":{"domain":[31.5,0],"nice":false,"zero":false},"axis":{"orient":"bottom","offset":74,"values":[0,1,2,3,4,5,6,7,8,9,10,11,12,13,14,15,16,17,18,19,20,21,22,23,24,25,26,27,28,29,30,31],"labelExpr":"datum.value % 10 === 0 ? datum.label : ''","tickSize":{"condition":{"test":"datum.value % 10 === 0","value":10},"value":5},"labelFontSize":22,"labelPadding":8,"title":"Mean annual SST(°C)","titleFontSize":25,"titlePadding":10}},
     "y":{"field":"c","type":"nominal","axis":null},
     "size":{"field":"n","type":"quantitative","scale":{"domain":[0,150],"range":[0,150]},"legend":null},
     "color":{"field":"c","type":"nominal","legend":null,"scale":{"domain":["bdi","bul","fal","cal","sip","cgl","rub","sac","rbs","uni","deh","qui","cgm","hir","inf","men","sci","tru","tum","ung","dut","inc","pac","obl","can","glu","uvu","MONO","dig","pel","NONS","gal","str"],"range":["#dba5d6","#a0521e","#b67b5f","#d48bcc","#c1479e","#a01c1f","#dc2c2f","#e23c1e","#e0402a","#e8c414","#e39b6c","#eaa34c","#1f4e9c","#2a48a3","#6cb8c8","#20b4dc","#6a5cb8","#4a68c0","#40b8a0","#3a78c8","#a066b8","#8544a8","#6e2b8f","#1fa5bc","#3c9a40","#4aa03c","#7cba2c","#e433b6","#e040c0","#b556b5","#111111","#111111","#c8c8c8"]}}}},
   {"data":{"name":"o1"},"mark":{"type":"point","shape":"circle","filled":true,"fill":"#ffffff","stroke":"#1a1a1a","strokeWidth":2.2,"size":58,"opacity":1},"encoding":{"x":{"field":"t","type":"quantitative","scale":{"domain":[31.5,0],"nice":false,"zero":false},"axis":null},"y":{"field":"c","type":"nominal","axis":null}}},
   {"data":{"name":"v1"},"transform":[{"filter":"datum.t >= 22"},{"aggregate":[{"op":"max","field":"n","as":"m"}],"groupby":["c"]},{"filter":"datum.m < 20"},{"lookup":"c","from":{"data":{"name":"n1"},"key":"c","fields":["name"]}}],"mark":{"type":"text","align":"left","baseline":"middle","fontSize":16.5,"fontStyle":"italic","color":"#4d4d4d","yOffset":-19},"encoding":{"x":{"datum":31.5,"type":"quantitative","scale":{"domain":[31.5,0],"nice":false,"zero":false},"axis":null},"y":{"field":"c","type":"nominal","axis":null},"text":{"field":"name"}}},
   {"data":{"name":"v1"},"transform":[{"filter":"datum.t >= 22"},{"aggregate":[{"op":"max","field":"n","as":"m"}],"groupby":["c"]},{"filter":"datum.m >= 20 && datum.m < 40"},{"lookup":"c","from":{"data":{"name":"n1"},"key":"c","fields":["name"]}}],"mark":{"type":"text","align":"left","baseline":"middle","fontSize":16.5,"fontStyle":"italic","color":"#4d4d4d","yOffset":-28},"encoding":{"x":{"datum":31.5,"type":"quantitative","scale":{"domain":[31.5,0],"nice":false,"zero":false},"axis":null},"y":{"field":"c","type":"nominal","axis":null},"text":{"field":"name"}}},
   {"data":{"name":"v1"},"transform":[{"filter":"datum.t >= 22"},{"aggregate":[{"op":"max","field":"n","as":"m"}],"groupby":["c"]},{"filter":"datum.m >= 40 && datum.m < 61"},{"lookup":"c","from":{"data":{"name":"n1"},"key":"c","fields":["name"]}}],"mark":{"type":"text","align":"left","baseline":"middle","fontSize":16.5,"fontStyle":"italic","color":"#4d4d4d","yOffset":-36},"encoding":{"x":{"datum":31.5,"type":"quantitative","scale":{"domain":[31.5,0],"nice":false,"zero":false},"axis":null},"y":{"field":"c","type":"nominal","axis":null},"text":{"field":"name"}}},
   {"data":{"name":"v1"},"transform":[{"filter":"datum.t >= 22"},{"aggregate":[{"op":"max","field":"n","as":"m"}],"groupby":["c"]},{"filter":"datum.m >= 61"},{"lookup":"c","from":{"data":{"name":"n1"},"key":"c","fields":["name"]}}],"mark":{"type":"text","align":"left","baseline":"middle","fontSize":16.5,"fontStyle":"italic","color":"#4d4d4d","yOffset":-46},"encoding":{"x":{"datum":31.5,"type":"quantitative","scale":{"domain":[31.5,0],"nice":false,"zero":false},"axis":null},"y":{"field":"c","type":"nominal","axis":null},"text":{"field":"name"}}}
 ]},
 {"width":302,"height":1008,"resolve":{"scale":{"x":"independent"},"axis":{"x":"independent"}},"layer":[
    {"data":{"name":"n1"},"mark":{"type":"rule","color":"#c4c4c4","strokeWidth":3},"encoding":{"y":{"field":"c","type":"nominal","scale":{"domain":["bdi","bul","fal","cal","sip","cgl","rub","sac","rbs","uni","deh","qui"],"paddingInner":0,"paddingOuter":0},"axis":null}}},
    {"data":{"name":"b1"},"transform":[{"filter":{"field":"p1","valid":true}}],"mark":{"type":"bar","filled":false,"strokeWidth":2,"strokeOpacity":0.7,"size":14,"yOffset":-12.5},"encoding":{"x":{"field":"p0","type":"quantitative","scale":{"domain":[0,15],"nice":false,"zero":false},"axis":{"orient":"top","offset":-1074,"values":[0,1,2,3,4,5,6,7,8,9,10,11,12,13,14,15],"labelExpr":"datum.value % 5 === 0 ? datum.label : ''","tickSize":{"condition":{"test":"datum.value % 5 === 0","value":10},"value":4},"labelFontSize":20,"labelPadding":6,"title":"Number of taxonomic paths","titleFontSize":20,"titlePadding":8}},"x2":{"field":"p1"},"y":{"field":"c","type":"nominal","axis":null},"color":{"field":"c","type":"nominal","legend":null}}},
    {"data":{"name":"b1"},"transform":[{"filter":{"field":"p1","valid":true}}],"mark":{"type":"text","align":"left","baseline":"middle","dx":4,"yOffset":-12.5,"fontSize":15,"color":"#333333"},"encoding":{"x":{"field":"p1","type":"quantitative","scale":{"domain":[0,15],"nice":false,"zero":false},"axis":null},"y":{"field":"c","type":"nominal","axis":null},"text":{"field":"pl"}}},
    {"data":{"name":"b1"},"mark":{"type":"bar","size":14,"yOffset":13.5,"stroke":"#000000","strokeOpacity":0.2,"strokeWidth":1},"encoding":{"x":{"field":"s0","type":"quantitative","scale":{"domain":[0,400],"nice":false,"zero":false},"axis":{"orient":"bottom","offset":74,"values":[0,20,40,60,80,100,120,140,160,180,200,220,240,260,280,300,320,340,360,380,400],"labelExpr":"datum.value % 100 === 0 ? datum.label : ''","tickSize":{"condition":{"test":"datum.value % 100 === 0","value":10},"value":5},"labelFontSize":22,"labelPadding":8,"title":"Number of sequences","titleFontSize":25,"titlePadding":10}},"x2":{"field":"s1"},"y":{"field":"c","type":"nominal","axis":null},"color":{"field":"c","type":"nominal","legend":null}}},
    {"data":{"name":"b1"},"mark":{"type":"text","align":"left","baseline":"middle","dx":3,"yOffset":13.5,"fontSize":15,"color":"#333333"},"encoding":{"x":{"field":"s1","type":"quantitative","scale":{"domain":[0,400],"nice":false,"zero":false},"axis":null},"y":{"field":"c","type":"nominal","axis":null},"text":{"field":"sl"}}}
 ]},
 {"width":303,"height":1008,"resolve":{"scale":{"x":"independent"},"axis":{"x":"independent"}},"layer":[
   {"data":{"name":"n2"},"mark":{"type":"rule","color":"#c4c4c4","strokeWidth":3},"encoding":{"y":{"field":"c","type":"nominal","scale":{"domain":["cgm","hir","inf","men","sci","tru","tum","ung","dut","inc","pac","obl"],"paddingInner":0,"paddingOuter":0},"axis":null}}},
   {"data":{"name":"v2"},"mark":{"type":"tick","orient":"vertical","thickness":9,"clip":true,"opacity":1,"stroke":"#000000","strokeOpacity":0.22,"strokeWidth":1},"encoding":{
     "x":{"field":"t","type":"quantitative","scale":{"domain":[31.1,0],"nice":false,"zero":false},"axis":{"orient":"bottom","offset":74,"values":[0,1,2,3,4,5,6,7,8,9,10,11,12,13,14,15,16,17,18,19,20,21,22,23,24,25,26,27,28,29,30,31],"labelExpr":"datum.value % 10 === 0 ? datum.label : ''","tickSize":{"condition":{"test":"datum.value % 10 === 0","value":10},"value":5},"labelFontSize":22,"labelPadding":8,"title":"Mean annual SST(°C)","titleFontSize":25,"titlePadding":10}},
     "y":{"field":"c","type":"nominal","axis":null},
     "size":{"field":"n","type":"quantitative","scale":{"domain":[0,150],"range":[0,150]},"legend":null},
     "color":{"field":"c","type":"nominal","legend":null}}},
   {"data":{"name":"o2"},"mark":{"type":"point","shape":"circle","filled":true,"fill":"#ffffff","stroke":"#1a1a1a","strokeWidth":2.2,"size":58,"opacity":1},"encoding":{"x":{"field":"t","type":"quantitative","scale":{"domain":[31.1,0],"nice":false,"zero":false},"axis":null},"y":{"field":"c","type":"nominal","axis":null}}},
   {"data":{"name":"v2"},"transform":[{"filter":"datum.t >= 22"},{"aggregate":[{"op":"max","field":"n","as":"m"}],"groupby":["c"]},{"filter":"datum.m < 20"},{"lookup":"c","from":{"data":{"name":"n2"},"key":"c","fields":["name"]}}],"mark":{"type":"text","align":"left","baseline":"middle","fontSize":16.5,"fontStyle":"italic","color":"#4d4d4d","lineBreak":"\n","yOffset":-22},"encoding":{"x":{"datum":31.1,"type":"quantitative","scale":{"domain":[31.1,0],"nice":false,"zero":false},"axis":null},"y":{"field":"c","type":"nominal","axis":null},"text":{"field":"name"}}},
   {"data":{"name":"v2"},"transform":[{"filter":"datum.t >= 22"},{"aggregate":[{"op":"max","field":"n","as":"m"}],"groupby":["c"]},{"filter":"datum.m >= 20 && datum.m < 40"},{"lookup":"c","from":{"data":{"name":"n2"},"key":"c","fields":["name"]}}],"mark":{"type":"text","align":"left","baseline":"middle","fontSize":16.5,"fontStyle":"italic","color":"#4d4d4d","lineBreak":"\n","yOffset":-28},"encoding":{"x":{"datum":31.1,"type":"quantitative","scale":{"domain":[31.1,0],"nice":false,"zero":false},"axis":null},"y":{"field":"c","type":"nominal","axis":null},"text":{"field":"name"}}},
   {"data":{"name":"v2"},"transform":[{"filter":"datum.t >= 22"},{"aggregate":[{"op":"max","field":"n","as":"m"}],"groupby":["c"]},{"filter":"datum.m >= 40 && datum.m < 61"},{"lookup":"c","from":{"data":{"name":"n2"},"key":"c","fields":["name"]}}],"mark":{"type":"text","align":"left","baseline":"middle","fontSize":16.5,"fontStyle":"italic","color":"#4d4d4d","lineBreak":"\n","yOffset":-35},"encoding":{"x":{"datum":31.1,"type":"quantitative","scale":{"domain":[31.1,0],"nice":false,"zero":false},"axis":null},"y":{"field":"c","type":"nominal","axis":null},"text":{"field":"name"}}},
   {"data":{"name":"v2"},"transform":[{"filter":"datum.t >= 22"},{"aggregate":[{"op":"max","field":"n","as":"m"}],"groupby":["c"]},{"filter":"datum.m >= 61"},{"lookup":"c","from":{"data":{"name":"n2"},"key":"c","fields":["name"]}}],"mark":{"type":"text","align":"left","baseline":"middle","fontSize":16.5,"fontStyle":"italic","color":"#4d4d4d","lineBreak":"\n","yOffset":-46},"encoding":{"x":{"datum":31.1,"type":"quantitative","scale":{"domain":[31.1,0],"nice":false,"zero":false},"axis":null},"y":{"field":"c","type":"nominal","axis":null},"text":{"field":"name"}}},
   {"data":{"name":"n2"},"transform":[{"filter":"datum.nv == 1"}],"mark":{"type":"text","align":"left","baseline":"middle","fontSize":16.5,"fontStyle":"italic","color":"#4d4d4d","yOffset":-30},"encoding":{"x":{"datum":31.1,"type":"quantitative","scale":{"domain":[31.1,0],"nice":false,"zero":false},"axis":null},"y":{"field":"c","type":"nominal","axis":null},"text":{"field":"name"}}}
 ]},
 {"width":302,"height":1008,"resolve":{"scale":{"x":"independent"},"axis":{"x":"independent"}},"layer":[
    {"data":{"name":"n2"},"mark":{"type":"rule","color":"#c4c4c4","strokeWidth":3},"encoding":{"y":{"field":"c","type":"nominal","scale":{"domain":["cgm","hir","inf","men","sci","tru","tum","ung","dut","inc","pac","obl"],"paddingInner":0,"paddingOuter":0},"axis":null}}},
    {"data":{"name":"b2"},"transform":[{"filter":{"field":"p1","valid":true}}],"mark":{"type":"bar","filled":false,"strokeWidth":2,"strokeOpacity":0.7,"size":14,"yOffset":-12.5},"encoding":{"x":{"field":"p0","type":"quantitative","scale":{"domain":[0,15],"nice":false,"zero":false},"axis":{"orient":"top","offset":-1074,"values":[0,1,2,3,4,5,6,7,8,9,10,11,12,13,14,15],"labelExpr":"datum.value % 5 === 0 ? datum.label : ''","tickSize":{"condition":{"test":"datum.value % 5 === 0","value":10},"value":4},"labelFontSize":20,"labelPadding":6,"title":"Number of taxonomic paths","titleFontSize":20,"titlePadding":8}},"x2":{"field":"p1"},"y":{"field":"c","type":"nominal","axis":null},"color":{"field":"c","type":"nominal","legend":null}}},
    {"data":{"name":"b2"},"transform":[{"filter":{"field":"p1","valid":true}}],"mark":{"type":"text","align":"left","baseline":"middle","dx":4,"yOffset":-12.5,"fontSize":15,"color":"#333333"},"encoding":{"x":{"field":"p1","type":"quantitative","scale":{"domain":[0,15],"nice":false,"zero":false},"axis":null},"y":{"field":"c","type":"nominal","axis":null},"text":{"field":"pl"}}},
    {"data":{"name":"b2"},"mark":{"type":"bar","size":14,"yOffset":13.5,"stroke":"#000000","strokeOpacity":0.2,"strokeWidth":1},"encoding":{"x":{"field":"s0","type":"quantitative","scale":{"domain":[0,400],"nice":false,"zero":false},"axis":{"orient":"bottom","offset":74,"values":[0,20,40,60,80,100,120,140,160,180,200,220,240,260,280,300,320,340,360,380,400],"labelExpr":"datum.value % 100 === 0 ? datum.label : ''","tickSize":{"condition":{"test":"datum.value % 100 === 0","value":10},"value":5},"labelFontSize":22,"labelPadding":8,"title":"Number of sequences","titleFontSize":25,"titlePadding":10}},"x2":{"field":"s1"},"y":{"field":"c","type":"nominal","axis":null},"color":{"field":"c","type":"nominal","legend":null}}},
    {"data":{"name":"b2"},"mark":{"type":"text","align":"left","baseline":"middle","dx":3,"yOffset":13.5,"fontSize":15,"color":"#333333"},"encoding":{"x":{"field":"s1","type":"quantitative","scale":{"domain":[0,400],"nice":false,"zero":false},"axis":null},"y":{"field":"c","type":"nominal","axis":null},"text":{"field":"sl"}}}
 ]},
 {"width":309,"height":1086,"resolve":{"scale":{"x":"independent","y":"independent"},"axis":{"x":"independent","y":"independent"}},"layer":[
  {"resolve":{"scale":{"x":"independent"},"axis":{"x":"independent"}},"layer":[
    {"data":{"name":"n3"},"transform":[{"filter":"datum.h != 1"}],"mark":{"type":"rule","color":"#c4c4c4","strokeWidth":3},"encoding":{"y":{"field":"c","type":"nominal","scale":{"domain":["can","glu","uvu","MONO","dig","pel","NONS","gal","str","_e1","_e2","_e3","_e4"],"paddingInner":0,"paddingOuter":0},"axis":null}}},
    {"data":{"name":"v3"},"mark":{"type":"tick","orient":"vertical","thickness":9,"clip":true,"opacity":1,"stroke":"#000000","strokeOpacity":0.22,"strokeWidth":1},"encoding":{
      "x":{"field":"t","type":"quantitative","scale":{"domain":[31.5,0],"nice":false,"zero":false},"axis":{"orient":"bottom","offset":-270,"values":[0,1,2,3,4,5,6,7,8,9,10,11,12,13,14,15,16,17,18,19,20,21,22,23,24,25,26,27,28,29,30,31],"labelExpr":"datum.value % 10 === 0 ? datum.label : ''","tickSize":{"condition":{"test":"datum.value % 10 === 0","value":10},"value":5},"labelFontSize":22,"labelPadding":8,"title":"Mean annual SST(°C)","titleFontSize":25,"titlePadding":6}},
      "y":{"field":"c","type":"nominal","axis":null},
      "size":{"field":"n","type":"quantitative","scale":{"domain":[0,150],"range":[0,150]},"legend":null},
      "color":{"field":"c","type":"nominal","legend":null}}},
    {"data":{"name":"o3"},"mark":{"type":"point","shape":"circle","filled":true,"fill":"#ffffff","stroke":"#1a1a1a","strokeWidth":2.2,"size":58,"opacity":1},"encoding":{"x":{"field":"t","type":"quantitative","scale":{"domain":[31.5,0],"nice":false,"zero":false},"axis":null},"y":{"field":"c","type":"nominal","axis":null}}},
    {"data":{"name":"v3"},"transform":[{"filter":"datum.t >= 22"},{"aggregate":[{"op":"max","field":"n","as":"m"}],"groupby":["c"]},{"filter":"datum.m < 20"},{"lookup":"c","from":{"data":{"name":"n3"},"key":"c","fields":["name"]}}],"mark":{"type":"text","align":"left","baseline":"middle","fontSize":16.5,"fontStyle":"italic","color":"#4d4d4d","yOffset":-20},"encoding":{"x":{"datum":31.5,"type":"quantitative","scale":{"domain":[31.5,0],"nice":false,"zero":false},"axis":null},"y":{"field":"c","type":"nominal","axis":null},"text":{"field":"name"}}},
    {"data":{"name":"v3"},"transform":[{"filter":"datum.t >= 22"},{"aggregate":[{"op":"max","field":"n","as":"m"}],"groupby":["c"]},{"filter":"datum.m >= 20"},{"lookup":"c","from":{"data":{"name":"n3"},"key":"c","fields":["name"]}}],"mark":{"type":"text","align":"left","baseline":"middle","fontSize":16.5,"fontStyle":"italic","color":"#4d4d4d","yOffset":-43},"encoding":{"x":{"datum":31.5,"type":"quantitative","scale":{"domain":[31.5,0],"nice":false,"zero":false},"axis":null},"y":{"field":"c","type":"nominal","axis":null},"text":{"field":"name"}}},
    {"data":{"name":"n3"},"transform":[{"filter":"datum.nv == 1"}],"mark":{"type":"text","align":"left","baseline":"middle","fontSize":16.5,"fontStyle":"italic","color":"#4d4d4d","yOffset":-25},"encoding":{"x":{"datum":31.5,"type":"quantitative","scale":{"domain":[31.5,0],"nice":false,"zero":false},"axis":null},"y":{"field":"c","type":"nominal","axis":null},"text":{"field":"name"}}},
    {"data":{"name":"n3"},"transform":[{"filter":"datum.h == 1"}],"mark":{"type":"text","align":"left","baseline":"middle","fontSize":30,"fontWeight":"bold"},"encoding":{"x":{"datum":31.5,"type":"quantitative","scale":{"domain":[31.5,0],"nice":false,"zero":false},"axis":null},"y":{"field":"c","type":"nominal","axis":null},"text":{"field":"name"},"color":{"field":"c","type":"nominal","legend":null}}}
  ]},
  {"resolve":{"scale":{"x":"independent"},"axis":{"x":"independent"}},"layer":[
    {"data":{"name":"pfr"},"mark":{"type":"rule","color":"#c6c6c6","strokeWidth":2},"encoding":{
      "x":{"field":"t","type":"quantitative","scale":{"domain":[31.5,0],"nice":false,"zero":false},"axis":{"orient":"bottom","offset":0,"values":[0,1,2,3,4,5,6,7,8,9,10,11,12,13,14,15,16,17,18,19,20,21,22,23,24,25,26,27,28,29,30,31],"labelExpr":"datum.value % 10 === 0 ? datum.label : ''","tickSize":{"condition":{"test":"datum.value % 10 === 0","value":10},"value":5},"labelFontSize":22,"labelPadding":8,"title":"Mean annual SST(°C)","titleFontSize":25,"titlePadding":10}},
      "y":{"field":"lo","type":"quantitative","title":" ","scale":{"domain":[91,158.875],"nice":false,"zero":false},"axis":{"orient":"right","domain":false,"values":[92,94,96,98,100],"labelExpr":"datum.value % 4 === 0 ? datum.label : ''","tickSize":6,"labelFontSize":20,"labelPadding":4,"title":" "}},
      "y2":{"field":"hi"}}},
    {"data":{"name":"pfr"},"mark":{"type":"point","shape":"circle","filled":true,"fill":"#ffffff","stroke":"#6a6a6a","strokeWidth":1.5,"size":40,"opacity":1},"encoding":{"x":{"field":"t","type":"quantitative","scale":{"domain":[31.5,0],"nice":false,"zero":false},"axis":null},"y":{"field":"v","type":"quantitative","title":" "}}},
    {"data":{"name":"pt"},"mark":{"type":"rule","color":"#1a1a1a","strokeWidth":2.5},"encoding":{"x":{"datum":0,"type":"quantitative","scale":{"domain":[31.5,0],"nice":false,"zero":false},"axis":null},"y":{"datum":91.8,"type":"quantitative"},"y2":{"datum":100.2}}},
    {"data":{"name":"pt"},"mark":{"type":"text","align":"left","baseline":"middle","fontSize":14,"fontWeight":"bold","color":"#333333"},"encoding":{"x":{"datum":31,"type":"quantitative","scale":{"domain":[31.5,0],"nice":false,"zero":false},"axis":null},"y":{"datum":100.9,"type":"quantitative"},"text":{"field":"g"}}},
    {"data":{"name":"pt"},"mark":{"type":"text","align":"center","baseline":"middle","fontSize":20,"angle":270,"color":"#222222","lineBreak":"\n"},"encoding":{"x":{"datum":-6.3,"type":"quantitative","scale":{"domain":[31.5,0],"nice":false,"zero":false},"axis":null},"y":{"datum":96,"type":"quantitative"},"text":{"field":"yt"}}}
  ]}
 ]},
 {"width":298,"height":1086,"resolve":{"scale":{"x":"independent","y":"independent"},"axis":{"x":"independent","y":"independent"}},"layer":[
  {"resolve":{"scale":{"x":"independent"},"axis":{"x":"independent"}},"layer":[
     {"data":{"name":"n3"},"transform":[{"filter":"datum.h != 1"}],"mark":{"type":"rule","color":"#c4c4c4","strokeWidth":3},"encoding":{"y":{"field":"c","type":"nominal","scale":{"domain":["can","glu","uvu","MONO","dig","pel","NONS","gal","str","_e1","_e2","_e3","_e4"],"paddingInner":0,"paddingOuter":0},"axis":null}}},
     {"data":{"name":"b3"},"transform":[{"filter":{"field":"p1","valid":true}}],"mark":{"type":"bar","filled":false,"strokeWidth":2,"strokeOpacity":0.8,"size":14,"yOffset":-12.5},"encoding":{"x":{"field":"p0","type":"quantitative","scale":{"domain":[0,15],"nice":false,"zero":false},"axis":{"orient":"top","offset":-804,"values":[0,1,2,3,4,5,6,7,8,9,10,11,12,13,14,15],"labelExpr":"datum.value % 5 === 0 ? datum.label : ''","tickSize":{"condition":{"test":"datum.value % 5 === 0","value":10},"value":4},"labelFontSize":20,"labelPadding":4,"title":"Number of taxonomic paths","titleFontSize":20,"titlePadding":6}},"x2":{"field":"p1"},"y":{"field":"c","type":"nominal","axis":null},"color":{"field":"c","type":"nominal","legend":null}}},
     {"data":{"name":"b3"},"transform":[{"filter":{"field":"p1","valid":true}}],"mark":{"type":"text","align":"left","baseline":"middle","dx":4,"yOffset":-12.5,"fontSize":15,"color":"#333333"},"encoding":{"x":{"field":"p1","type":"quantitative","scale":{"domain":[0,15],"nice":false,"zero":false},"axis":null},"y":{"field":"c","type":"nominal","axis":null},"text":{"field":"pl"}}},
     {"data":{"name":"b3"},"mark":{"type":"bar","size":14,"yOffset":13.5,"stroke":"#000000","strokeOpacity":0.3,"strokeWidth":1},"encoding":{"x":{"field":"s0","type":"quantitative","scale":{"domain":[0,400],"nice":false,"zero":false},"axis":{"orient":"bottom","offset":-270,"values":[0,20,40,60,80,100,120,140,160,180,200,220,240,260,280,300,320,340,360,380,400],"labelExpr":"datum.value % 100 === 0 ? datum.label : ''","tickSize":{"condition":{"test":"datum.value % 100 === 0","value":10},"value":5},"labelFontSize":22,"labelPadding":8,"title":"Number of sequences","titleFontSize":25,"titlePadding":6}},"x2":{"field":"s1"},"y":{"field":"c","type":"nominal","axis":null},"color":{"field":"c","type":"nominal","legend":null}}},
     {"data":{"name":"b3"},"mark":{"type":"text","align":"left","baseline":"middle","dx":3,"yOffset":13.5,"fontSize":15,"color":"#333333"},"encoding":{"x":{"field":"s1","type":"quantitative","scale":{"domain":[0,400],"nice":false,"zero":false},"axis":null},"y":{"field":"c","type":"nominal","axis":null},"text":{"field":"sl"}}},
     {"data":{"name":"hb"},"transform":[{"filter":"datum.c == 'MONO'"}],"mark":{"type":"bar","size":32,"fill":"#f29ad9","stroke":"#e11bb0","strokeWidth":3},"encoding":{"x":{"field":"v","type":"quantitative","scale":{"domain":[0,15],"nice":false},"axis":null},"y":{"field":"c","type":"nominal","axis":null}}},
     {"data":{"name":"hb"},"transform":[{"filter":"datum.c == 'NONS'"}],"mark":{"type":"bar","size":32,"fill":"#b5b5b5","stroke":"#6e6e6e","strokeWidth":3},"encoding":{"x":{"field":"v","type":"quantitative","scale":{"domain":[0,15],"nice":false},"axis":null},"y":{"field":"c","type":"nominal","axis":null}}},
     {"data":{"name":"hb"},"mark":{"type":"text","align":"left","baseline":"middle","dx":5,"fontSize":22,"color":"#1a1a1a"},"encoding":{"x":{"datum":0,"type":"quantitative","scale":{"domain":[0,15],"nice":false},"axis":null},"y":{"field":"c","type":"nominal","axis":null},"text":{"field":"v"}}}
  ]},
  {"data":{"name":"hist"},"mark":{"type":"tick","orient":"vertical","thickness":18,"fill":"#8b8b8b","stroke":"#4a4a4a","strokeWidth":1,"opacity":1},"encoding":{"x":{"field":"k","type":"quantitative","scale":{"domain":[-6.28,10.28],"nice":false,"zero":false},"axis":null},"y":{"datum":0,"type":"quantitative","scale":{"domain":[-64,1022]},"axis":null},"size":{"field":"n","type":"quantitative","scale":{"domain":[0,150],"range":[0,150]},"legend":null}}}
 ]}
]
}
